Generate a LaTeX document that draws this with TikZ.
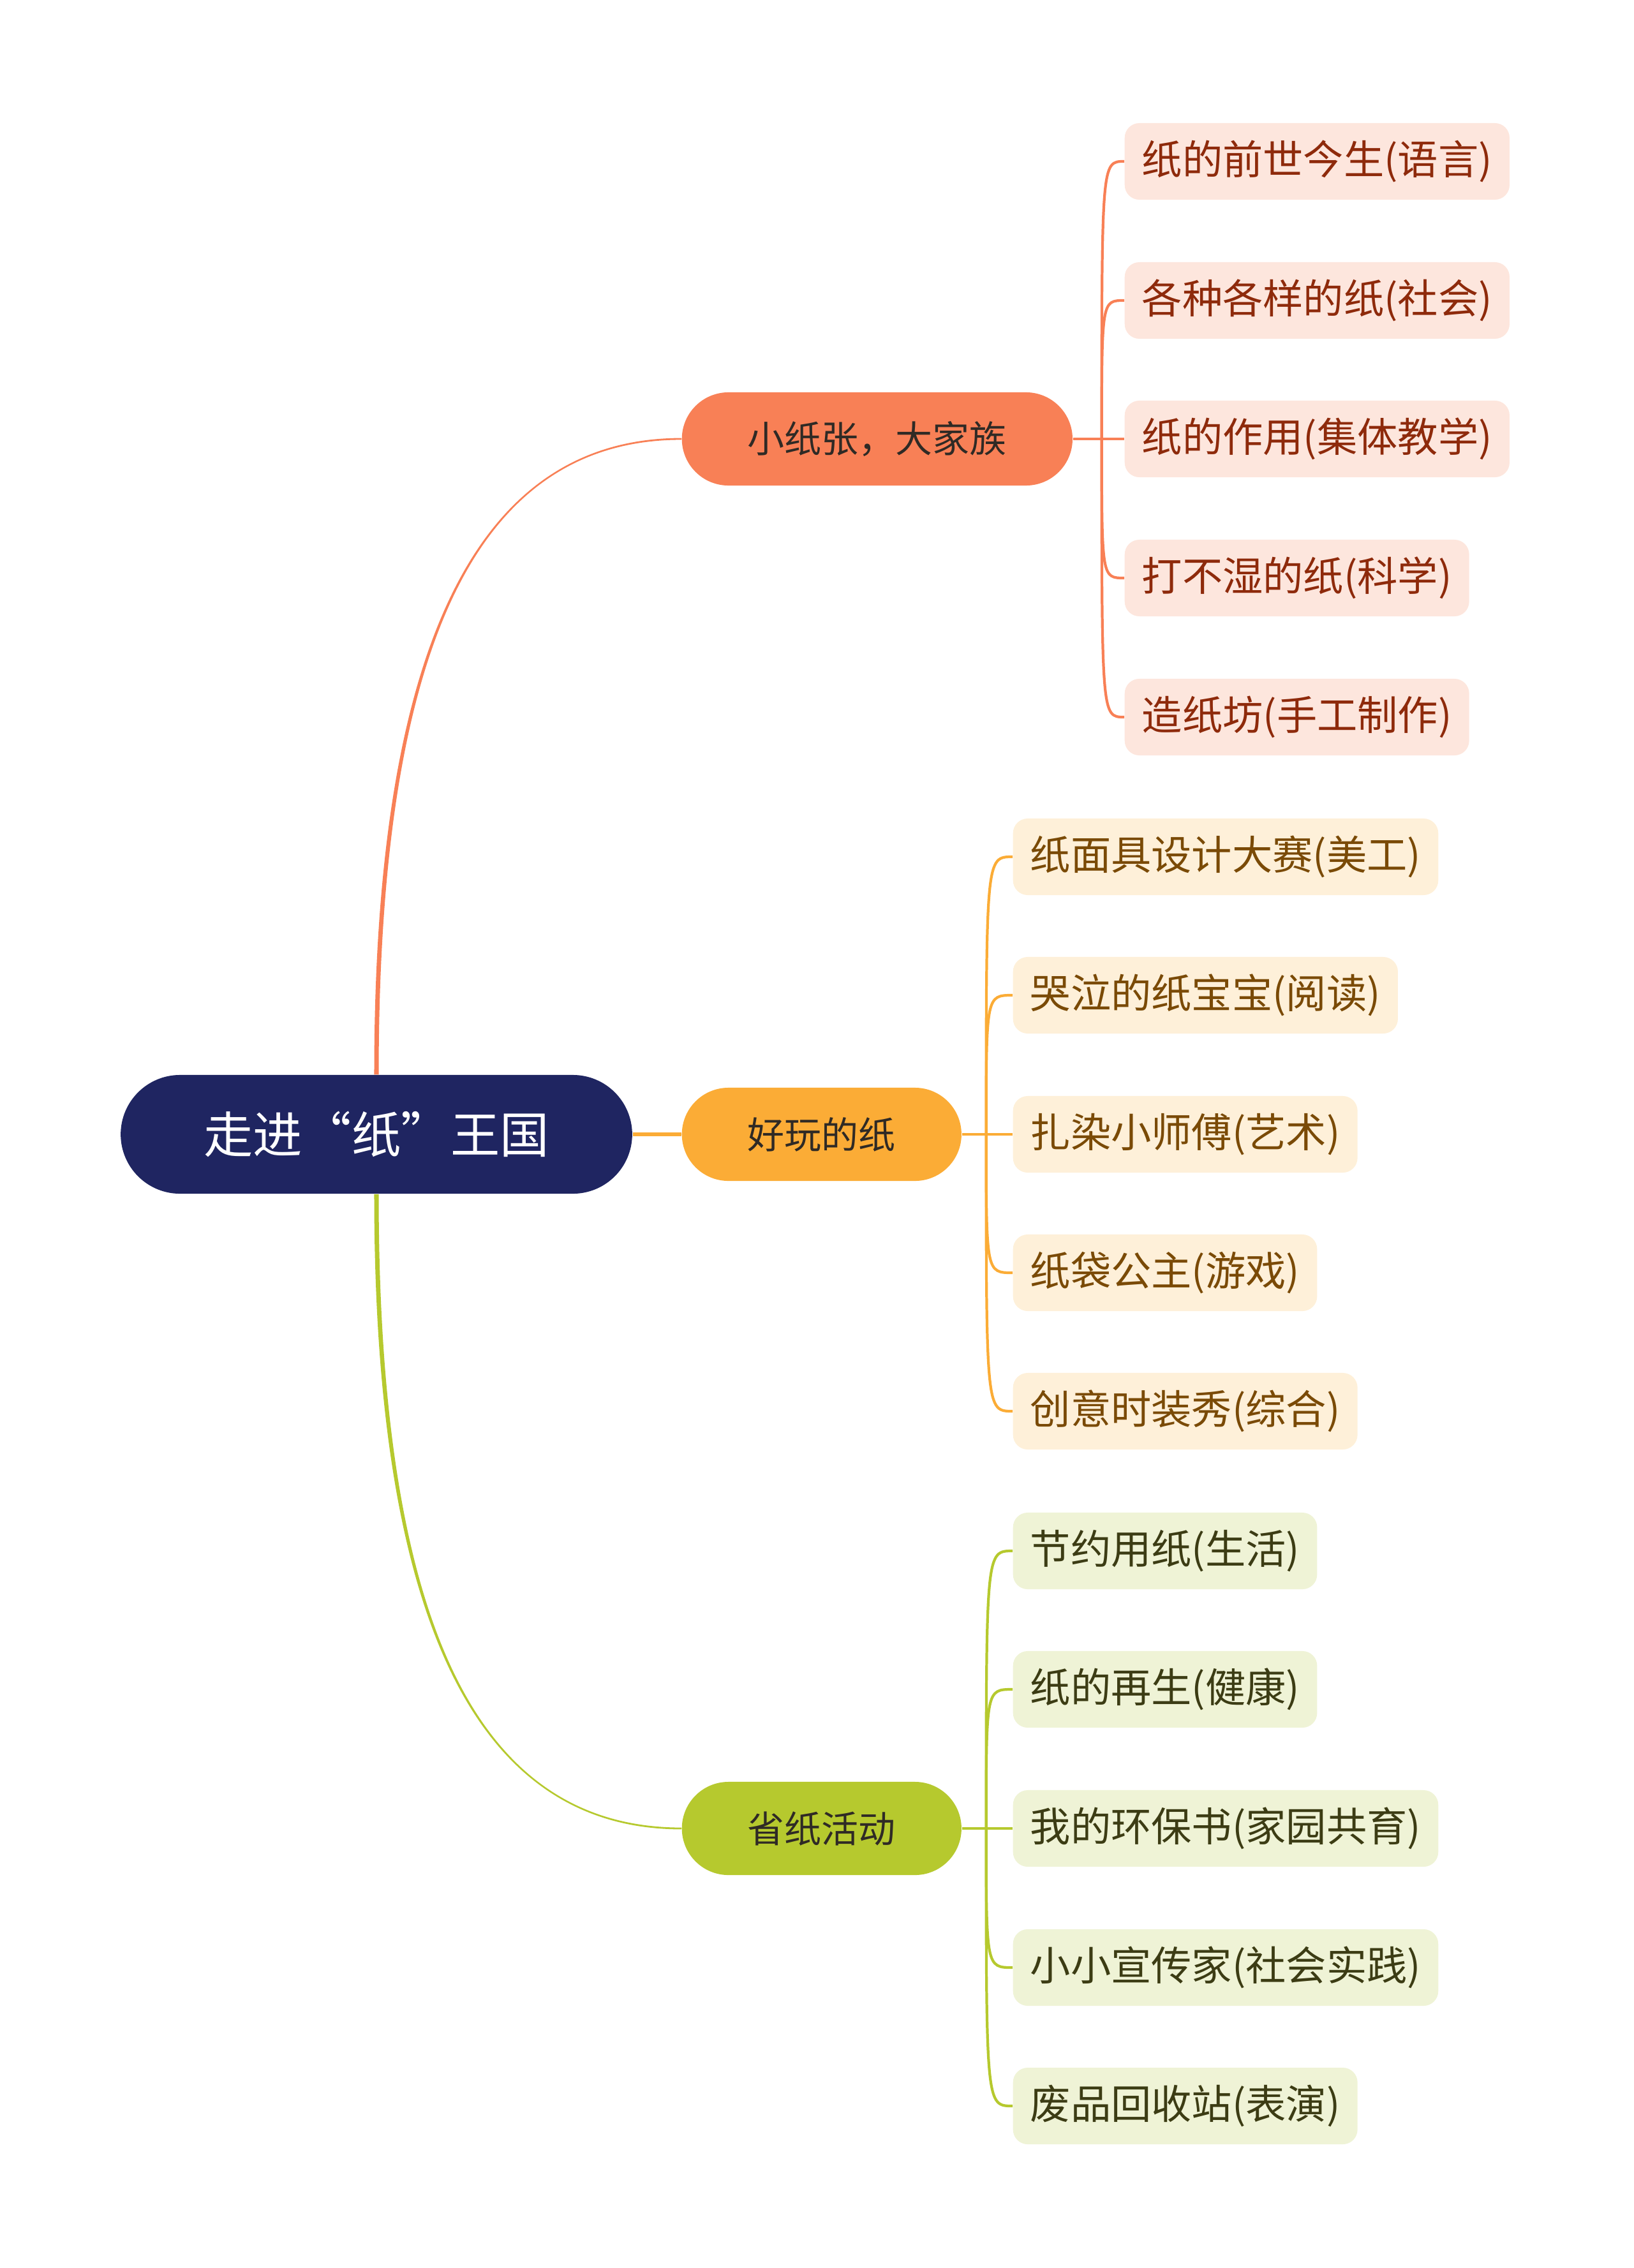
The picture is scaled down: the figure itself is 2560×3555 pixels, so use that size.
\documentclass[tikz,border=0pt]{standalone}
\usepackage{fontspec}
\newfontfamily\cjk{Noto Sans CJK SC}
\usepackage{tikz}
\usetikzlibrary{positioning}

\definecolor{rootblue}{RGB}{31,37,97}
\definecolor{paperorange}{RGB}{248,128,86}
\definecolor{paperyellow}{RGB}{251,172,54}
\definecolor{papergreen}{RGB}{182,201,46}
\definecolor{orangeleaf}{RGB}{253,230,221}
\definecolor{yellowleaf}{RGB}{254,240,217}
\definecolor{greenleaf}{RGB}{239,243,214}
\definecolor{orangetext}{RGB}{142,42,11}
\definecolor{yellowtext}{RGB}{122,74,6}
\definecolor{greentext}{RGB}{60,60,20}
\definecolor{topictext}{RGB}{47,42,37}

\tikzset{
  rootnode/.style={fill=rootblue, text=white, rounded corners=0.93cm, minimum height=1.86cm, inner xsep=1.3cm, font=\cjk\fontsize{22}{26}\selectfont},
  topicnode/.style={rounded corners=0.73cm, minimum height=1.46cm, inner xsep=1.03cm, text=topictext, font=\cjk\fontsize{16.5}{20}\selectfont, anchor=west},
  leafnode/.style={rounded corners=0.23cm, minimum height=1.2cm, inner xsep=0.27cm, font=\cjk\fontsize{18}{22}\selectfont, anchor=west},
  orangeleafnode/.style={leafnode, fill=orangeleaf, text=orangetext},
  yellowleafnode/.style={leafnode, fill=yellowleaf, text=yellowtext},
  greenleafnode/.style={leafnode, fill=greenleaf, text=greentext},
  branch/.style={line width=1.5pt},
  twig/.style={line width=1.2pt},
}

\begin{document}
\begin{tikzpicture}[x=0.01cm, y=-0.01cm]
    \useasboundingbox (0,0) rectangle (2560,3555);

    % Root
    \node[rootnode] (root) at (590,1778) {走进“纸”王国};

    % Topics
    \node[topicnode, fill=paperorange] (family) at (1068,688) {小纸张，大家族};
    \node[topicnode, fill=paperyellow] (fun) at (1068,1778) {好玩的纸};
    \node[topicnode, fill=papergreen] (save) at (1068,2866) {省纸活动};

    % tapered branches from the root
    \fill[paperorange] ([xshift=-1pt]root.north) .. controls +(0,-635) and +(-338,0) .. ([yshift=0.4pt]family.west)
        -- ([yshift=-0.4pt]family.west) .. controls +(-338,0) and +(0,-635) .. ([xshift=1pt]root.north) -- cycle;
    \draw[branch, paperyellow] (root.east) -- (fun.west);
    \fill[papergreen] ([xshift=-1pt]root.south) .. controls +(0,635) and +(-338,0) .. ([yshift=-0.4pt]save.west)
        -- ([yshift=0.4pt]save.west) .. controls +(-338,0) and +(0,635) .. ([xshift=1pt]root.south) -- cycle;

    % 小纸张，大家族
    \node[orangeleafnode] (family-1) at (1762,253) {纸的前世今生(语言)};
    \node[orangeleafnode] (family-2) at (1762,471) {各种各样的纸(社会)};
    \node[orangeleafnode] (family-3) at (1762,688) {纸的作用(集体教学)};
    \node[orangeleafnode] (family-4) at (1762,906) {打不湿的纸(科学)};
    \node[orangeleafnode] (family-5) at (1762,1124) {造纸坊(手工制作)};

    \coordinate[right=0.45cm of family.east] (family-j);
    \draw[twig, paperorange] (family.east) -- (family-j);
    \draw[twig, paperorange] (family-j) .. controls (family-j |- family-1.west) .. (family-1.west);
    \draw[twig, paperorange] (family-j) .. controls (family-j |- family-2.west) .. (family-2.west);
    \draw[twig, paperorange] (family-j) -- (family-3.west);
    \draw[twig, paperorange] (family-j) .. controls (family-j |- family-4.west) .. (family-4.west);
    \draw[twig, paperorange] (family-j) .. controls (family-j |- family-5.west) .. (family-5.west);

    % 好玩的纸
    \node[yellowleafnode] (fun-1) at (1587,1343) {纸面具设计大赛(美工)};
    \node[yellowleafnode] (fun-2) at (1587,1560) {哭泣的纸宝宝(阅读)};
    \node[yellowleafnode] (fun-3) at (1587,1778) {扎染小师傅(艺术)};
    \node[yellowleafnode] (fun-4) at (1587,1995) {纸袋公主(游戏)};
    \node[yellowleafnode] (fun-5) at (1587,2212) {创意时装秀(综合)};

    \coordinate[right=0.38cm of fun.east] (fun-j);
    \draw[twig, paperyellow] (fun.east) -- (fun-j);
    \draw[twig, paperyellow] (fun-j) .. controls (fun-j |- fun-1.west) .. (fun-1.west);
    \draw[twig, paperyellow] (fun-j) .. controls (fun-j |- fun-2.west) .. (fun-2.west);
    \draw[twig, paperyellow] (fun-j) -- (fun-3.west);
    \draw[twig, paperyellow] (fun-j) .. controls (fun-j |- fun-4.west) .. (fun-4.west);
    \draw[twig, paperyellow] (fun-j) .. controls (fun-j |- fun-5.west) .. (fun-5.west);

    % 省纸活动
    \node[greenleafnode] (save-1) at (1587,2431) {节约用纸(生活)};
    \node[greenleafnode] (save-2) at (1587,2648) {纸的再生(健康)};
    \node[greenleafnode] (save-3) at (1587,2866) {我的环保书(家园共育)};
    \node[greenleafnode] (save-4) at (1587,3084) {小小宣传家(社会实践)};
    \node[greenleafnode] (save-5) at (1587,3301) {废品回收站(表演)};

    \coordinate[right=0.38cm of save.east] (save-j);
    \draw[twig, papergreen] (save.east) -- (save-j);
    \draw[twig, papergreen] (save-j) .. controls (save-j |- save-1.west) .. (save-1.west);
    \draw[twig, papergreen] (save-j) .. controls (save-j |- save-2.west) .. (save-2.west);
    \draw[twig, papergreen] (save-j) -- (save-3.west);
    \draw[twig, papergreen] (save-j) .. controls (save-j |- save-4.west) .. (save-4.west);
    \draw[twig, papergreen] (save-j) .. controls (save-j |- save-5.west) .. (save-5.west);
\end{tikzpicture}
\end{document}
